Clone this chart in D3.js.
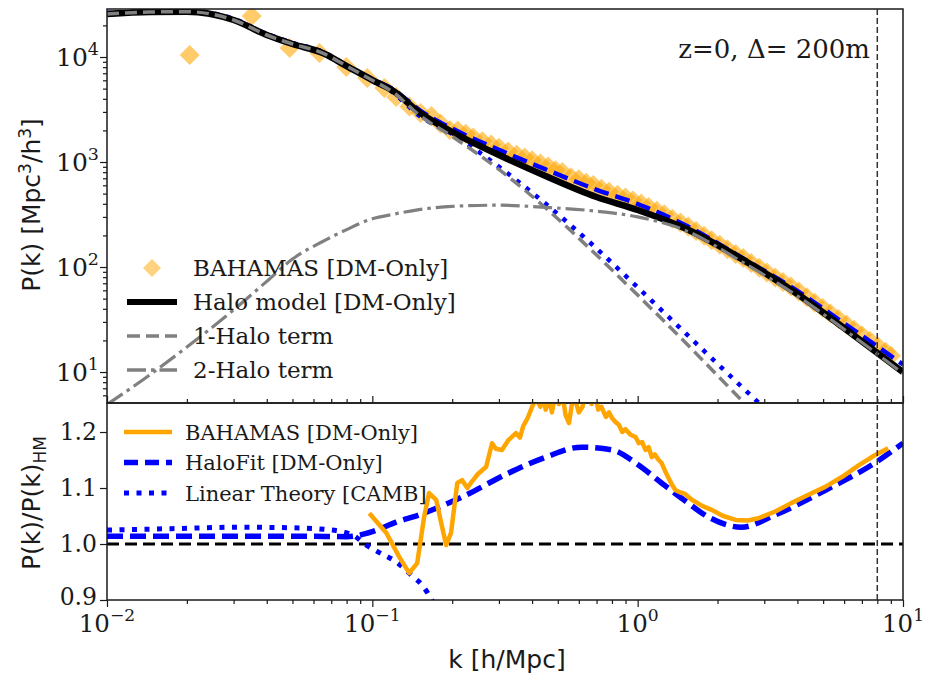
<!DOCTYPE html>
<html>
<head>
<meta charset="utf-8">
<script src="https://cdn.jsdelivr.net/npm/d3@7"></script>
<style>
  body { margin: 0; background: #fff; }
</style>
</head>
<body>
<div id="chart"></div>
<script>
// ---- data ----
// model curves on a shared k grid [h/Mpc]
var kGrid = [0.01, 0.0145, 0.02, 0.03, 0.04, 0.05, 0.065, 0.08, 0.1, 0.12, 0.15, 0.2, 0.3, 0.45, 0.7, 1.0, 1.5, 2.5, 4, 6, 10];
var pHaloModel = [25700, 26800, 27000, 22500, 16200, 13300, 10900, 8200, 6030, 4740, 2990, 1930, 1166, 736, 464, 349, 235, 117, 55.3, 26.2, 10.0];
var pHaloFit = [26000, 27100, 27300, 22800, 16400, 13500, 11000, 8300, 6160, 4915, 3145, 2080, 1306, 850, 544, 398, 253, 120.5, 59.1, 29.1, 11.8];
var pLinear = [26200, 27400, 27700, 23100, 16600, 13650, 11200, 8350, 6000, 4570, 2770, 1850, 900, 400, 150, 64, 24, 7.0, 2.3, 0.8, 0.2];
var pOneHalo = [25700, 26800, 27000, 22500, 16200, 13300, 10900, 8200, 6000, 4600, 2800, 1750, 850, 365, 130, 54, 19.5, 5.2, 1.6, 0.5, 0.1];
var pTwoHalo = [4.9, 9.4, 17.3, 39, 73, 119, 175, 227, 288, 318, 352, 378, 388, 370, 340, 300, 225, 110, 53, 25.5, 9.7];

// BAHAMAS simulation points (top panel)
var kBahamas = [0.0205, 0.0351, 0.0488, 0.0632, 0.0798, 0.0957, 0.111, 0.123,
  0.138, 0.152, 0.167, 0.181, 0.196, 0.21, 0.225, 0.24, 0.26, 0.28,
  0.30, 0.325, 0.35, 0.375, 0.40, 0.43, 0.46, 0.49, 0.52, 0.56,
  0.60, 0.64, 0.68, 0.73, 0.78, 0.84, 0.9, 0.96, 1.03, 1.1,
  1.18, 1.26, 1.35, 1.45, 1.55, 1.66, 1.78, 1.9, 2.04, 2.18,
  2.34, 2.5, 2.68, 2.87, 3.07, 3.3, 3.53, 3.78, 4.05, 4.34,
  4.65, 4.98, 5.33, 5.71, 6.12, 6.55, 7.0, 7.5, 8.05, 8.6, 9.0];
var pBahamas = [10440, 24550, 12180, 10920, 8030, 6310, 5070, 4160,
  3370, 2930, 2750, 2310, 2015, 2000, 1860, 1710, 1580, 1470,
  1365, 1256, 1175, 1102, 1042, 968, 906, 836, 804, 715,
  687, 635, 603, 556, 521, 489, 458, 431, 402, 373,
  343, 318, 288, 265, 243, 220, 199, 180, 163, 148,
  133, 122, 109, 98.4, 88.7, 79.6, 72.0, 65.3, 58.5, 51.6,
  45.7, 40.6, 36.0, 31.9, 28.4, 25.2, 22.4, 19.9, 17.5, 15.6, 14.3];

// ratio panel: P(k)/P(k)_HM
var kRatioBahamas = [0.0974, 0.1128, 0.1263, 0.1377, 0.1476, 0.1567, 0.1636, 0.174, 0.1833, 0.1897,
  0.198, 0.209, 0.218, 0.228, 0.2377, 0.25, 0.2686, 0.2826, 0.292, 0.308, 0.325, 0.3476, 0.36, 0.37, 0.385,
  0.40, 0.414, 0.43, 0.44, 0.45, 0.462, 0.475, 0.49, 0.505, 0.52, 0.535, 0.551, 0.565, 0.58, 0.60, 0.62, 0.635, 0.65, 0.67,
  0.695, 0.71, 0.73, 0.759, 0.78, 0.8, 0.825, 0.849, 0.875, 0.9, 0.94, 0.982, 1.01, 1.04, 1.07, 1.10, 1.13, 1.16,
  1.2, 1.23, 1.27, 1.3, 1.35, 1.39, 1.45, 1.5, 1.60, 1.75, 1.90, 2.1, 2.34, 2.6,
  2.85, 3.3, 3.79, 4.4, 5.09, 5.9, 6.78, 7.8, 8.79];
var rBahamas = [1.055, 1.02, 0.977, 0.948, 0.966, 1.048, 1.091, 1.079, 1.030, 0.998,
  1.02, 1.109, 1.114, 1.10, 1.112, 1.125, 1.138, 1.18, 1.17, 1.168, 1.185, 1.198, 1.19, 1.21, 1.225,
  1.245, 1.26, 1.245, 1.27, 1.24, 1.262, 1.235, 1.27, 1.25, 1.27, 1.23, 1.216, 1.25, 1.26, 1.235, 1.245, 1.275, 1.28, 1.25,
  1.262, 1.24, 1.245, 1.227, 1.235, 1.225, 1.218, 1.213, 1.2, 1.205, 1.195, 1.191, 1.18, 1.182, 1.168, 1.173, 1.155, 1.16,
  1.15, 1.145, 1.13, 1.12, 1.105, 1.096, 1.092, 1.09, 1.079, 1.068, 1.061, 1.05, 1.043, 1.042,
  1.046, 1.058, 1.073, 1.088, 1.102, 1.12, 1.14, 1.158, 1.171];

var kRatioHaloFit = [0.01, 0.02, 0.04, 0.06, 0.08, 0.09, 0.1, 0.123, 0.15, 0.218, 0.327, 0.45, 0.615, 0.8, 1.0, 1.23, 1.5, 1.85, 2.46, 3.3, 5.1, 7.85, 10];
var rHaloFit = [1.014, 1.014, 1.014, 1.014, 1.013, 1.016, 1.022, 1.039, 1.052, 1.084, 1.127, 1.155, 1.173, 1.168, 1.142, 1.109, 1.078, 1.048, 1.030, 1.052, 1.096, 1.145, 1.180];

var kRatioLinear = [0.01, 0.02, 0.03, 0.05, 0.07, 0.085, 0.095, 0.105, 0.123, 0.14, 0.155, 0.17];
var rLinear = [1.025, 1.028, 1.03, 1.029, 1.025, 1.015, 0.998, 0.986, 0.968, 0.945, 0.925, 0.895];

var kCut = 8; // vertical dashed marker

// ---- layout ----
var svgWidth = 926;
var svgHeight = 674;
var margin = { top: 9, right: 23, bottom: 74, left: 107 };
var width = svgWidth - margin.left - margin.right;
var topH = 394;
var botH = svgHeight - margin.top - margin.bottom - topH;

var serif = "DejaVu Serif, serif";
var sans = "DejaVu Sans, sans-serif";
var ink = "#1a1a1a";

var svg = d3.select("#chart")
  .append("svg")
  .attr("width", svgWidth)
  .attr("height", svgHeight);

var defs = svg.append("defs");
defs.append("clipPath").attr("id", "clipTop")
  .append("rect").attr("width", width).attr("height", topH);
defs.append("clipPath").attr("id", "clipBot")
  .append("rect").attr("width", width).attr("height", botH);

var topGroup = svg.append("g")
  .attr("transform", `translate(${margin.left}, ${margin.top})`);
var botGroup = svg.append("g")
  .attr("transform", `translate(${margin.left}, ${margin.top + topH})`);

// scales
var xScale = d3.scaleLog().domain([0.01, 10]).range([0, width]);
var yTop = d3.scaleLog().domain([5.07, 28650]).range([topH, 0]);
var yBot = d3.scaleLinear().domain([0.9, 1.2518]).range([botH, 0]);

function zip(ks, vs) { return ks.map((k, i) => [k, vs[i]]); }

var lineTop = d3.line()
  .x(d => xScale(d[0]))
  .y(d => yTop(d[1]))
  .curve(d3.curveMonotoneX);
var lineBot = d3.line()
  .x(d => xScale(d[0]))
  .y(d => yBot(d[1]))
  .curve(d3.curveMonotoneX);

// ---- top panel ----
var topPlot = topGroup.append("g").attr("clip-path", "url(#clipTop)");

var diamond = "M0,-10L10,0L0,10L-10,0Z";
topPlot.selectAll("path.bahamas")
  .data(zip(kBahamas, pBahamas))
  .enter()
  .append("path")
  .attr("class", "bahamas")
  .attr("d", diamond)
  .attr("transform", d => `translate(${xScale(d[0])},${yTop(d[1])})`)
  .attr("fill", "#ffa500")
  .attr("fill-opacity", 0.58);

function addTopLine(vals, color, w, dash) {
  topPlot.append("path")
    .datum(zip(kGrid, vals))
    .attr("d", lineTop)
    .attr("fill", "none")
    .attr("stroke", color)
    .attr("stroke-width", w)
    .attr("stroke-dasharray", dash || null);
}
addTopLine(pLinear, "#0000ff", 4.5, "4.5,7.5");
addTopLine(pHaloFit, "#0000ff", 4.5, "15,7");
addTopLine(pHaloModel, "#000000", 6.5);
addTopLine(pOneHalo, "#808080", 3.5, "12,6");
addTopLine(pTwoHalo, "#808080", 3.2, "19,5,3.5,5");

// ---- bottom panel ----
var botPlot = botGroup.append("g").attr("clip-path", "url(#clipBot)");

botPlot.append("line")
  .attr("x1", 0).attr("x2", width)
  .attr("y1", yBot(1)).attr("y2", yBot(1))
  .attr("stroke", "#000").attr("stroke-width", 3)
  .attr("stroke-dasharray", "12,6");

function addBotLine(ks, vals, color, w, dash, curve) {
  botPlot.append("path")
    .datum(zip(ks, vals))
    .attr("d", lineBot.curve(curve || d3.curveMonotoneX))
    .attr("fill", "none")
    .attr("stroke", color)
    .attr("stroke-width", w)
    .attr("stroke-linejoin", "round")
    .attr("stroke-dasharray", dash || null);
}
addBotLine(kRatioLinear, rLinear, "#0000ff", 5, "5,7.5");
addBotLine(kRatioHaloFit, rHaloFit, "#0000ff", 5.5, "16,7");
addBotLine(kRatioBahamas, rBahamas, "#ffa500", 4.5, null, d3.curveLinear);

// vertical marker through both panels
svg.append("line")
  .attr("x1", margin.left + xScale(kCut)).attr("x2", margin.left + xScale(kCut))
  .attr("y1", margin.top).attr("y2", margin.top + topH + botH)
  .attr("stroke", "#333").attr("stroke-width", 1.5)
  .attr("stroke-dasharray", "6,3");

// ---- axes ----
function minorLog(lo, hi) {
  var out = [];
  for (var e = Math.floor(Math.log10(lo)); e <= Math.ceil(Math.log10(hi)); e++) {
    for (var m = 2; m <= 9; m++) {
      var v = m * Math.pow(10, e);
      if (v >= lo && v <= hi) out.push(v);
    }
  }
  return out;
}

function styleAxis(g) {
  g.select(".domain").remove();
  g.selectAll(".tick line").attr("stroke", ink).attr("stroke-width", 1.2);
  g.selectAll(".tick text").remove();
}

var xMajor = [0.01, 0.1, 1, 10];
var xMinor = minorLog(0.01, 10);

// top panel: y log ticks (outside), x ticks pointing up at panel bottom
topGroup.append("g").call(d3.axisLeft(yTop).tickValues([10, 100, 1000, 10000]).tickSize(7)).call(styleAxis);
topGroup.append("g").call(d3.axisLeft(yTop).tickValues(minorLog(5.07, 28650)).tickSize(4)).call(styleAxis);
topGroup.append("g").attr("transform", `translate(0, ${topH})`)
  .call(d3.axisTop(xScale).tickValues(xMajor).tickSize(7)).call(styleAxis);
topGroup.append("g").attr("transform", `translate(0, ${topH})`)
  .call(d3.axisTop(xScale).tickValues(xMinor).tickSize(4)).call(styleAxis);

// bottom panel
botGroup.append("g").call(d3.axisLeft(yBot).tickValues([0.9, 1.0, 1.1, 1.2]).tickSize(7)).call(styleAxis);
botGroup.append("g").attr("transform", `translate(0, ${botH})`)
  .call(d3.axisBottom(xScale).tickValues(xMajor).tickSize(7)).call(styleAxis);
botGroup.append("g").attr("transform", `translate(0, ${botH})`)
  .call(d3.axisBottom(xScale).tickValues(xMinor).tickSize(4)).call(styleAxis);

// frames
[[topGroup, topH], [botGroup, botH]].forEach(function(p) {
  p[0].append("rect")
    .attr("width", width).attr("height", p[1])
    .attr("fill", "none").attr("stroke", ink).attr("stroke-width", 1.5);
});

// tick labels (mathtext style powers of ten): base and exponent as separate texts
function powLabel(g, x, y, exp, anchor, fs) {
  var base = g.append("text")
    .attr("y", y)
    .attr("font-family", serif).attr("font-size", fs)
    .attr("fill", ink)
    .text("10");
  var sup = g.append("text")
    .attr("y", y - 0.45 * fs)
    .attr("font-family", serif).attr("font-size", fs * 0.7)
    .attr("fill", ink)
    .text(exp < 0 ? "\u2212" + (-exp) : String(exp));
  var w1 = base.node().getComputedTextLength();
  var w2 = sup.node().getComputedTextLength();
  var x0 = anchor === "end" ? x - w1 - w2 : x - (w1 + w2) / 2;
  base.attr("x", x0);
  sup.attr("x", x0 + w1);
}
[1, 2, 3, 4].forEach(e => powLabel(topGroup, -8, yTop(Math.pow(10, e)) + 9, e, "end", 25));
[-2, -1, 0, 1].forEach(e => powLabel(botGroup, xScale(Math.pow(10, e)), botH + 32, e, "middle", 24.5));

[0.9, 1.0, 1.1, 1.2].forEach(function(v) {
  botGroup.append("text")
    .attr("x", -10).attr("y", yBot(v) + (v === 0.9 ? 5 : 7.5))
    .attr("text-anchor", "end")
    .attr("font-family", serif).attr("font-size", 23.5)
    .attr("fill", ink)
    .text(d3.format(".1f")(v));
});

// axis titles
var yTitleTop = svg.append("text")
  .attr("transform", `translate(40, ${205}) rotate(-90)`)
  .attr("text-anchor", "middle")
  .attr("font-family", sans).attr("font-size", 25)
  .attr("fill", ink);
yTitleTop.append("tspan").text("P(k) [Mpc");
yTitleTop.append("tspan").attr("dy", -9).attr("font-size", 17).text("3");
yTitleTop.append("tspan").attr("dy", 9).text("/h");
yTitleTop.append("tspan").attr("dy", -9).attr("font-size", 17).text("3");
yTitleTop.append("tspan").attr("dy", 9).text("]");

var yTitleBot = svg.append("text")
  .attr("transform", `translate(40, ${503}) rotate(-90)`)
  .attr("text-anchor", "middle")
  .attr("font-family", sans).attr("font-size", 25)
  .attr("fill", ink);
yTitleBot.append("tspan").text("P(k)/P(k)");
yTitleBot.append("tspan").attr("dy", 6).attr("font-size", 17).text("HM");

svg.append("text")
  .attr("x", margin.left + width / 2 + 2).attr("y", 668)
  .attr("text-anchor", "middle")
  .attr("font-family", sans).attr("font-size", 25)
  .attr("fill", ink)
  .text("k [h/Mpc]");

// annotation
svg.append("text")
  .attr("x", 870).attr("y", 58)
  .attr("text-anchor", "end")
  .attr("font-family", serif).attr("font-size", 26)
  .attr("fill", ink)
  .text("z=0, \u0394= 200m");

// ---- legends ----
var topLegend = [
  { label: "BAHAMAS [DM-Only]", type: "diamond" },
  { label: "Halo model [DM-Only]", color: "#000", w: 6 },
  { label: "1-Halo term", color: "#808080", w: 3.5, dash: "13,6" },
  { label: "2-Halo term", color: "#808080", w: 3.5, dash: "19,5,3.5,5" }
];
var botLegend = [
  { label: "BAHAMAS [DM-Only]", color: "#ffa500", w: 4.5 },
  { label: "HaloFit [DM-Only]", color: "#0000ff", w: 5.5, dash: "14,7" },
  { label: "Linear Theory [CAMB]", color: "#0000ff", w: 5, dash: "5,7.5" }
];

function drawLegend(items, x0, x1, tx, y0, step, fs) {
  items.forEach(function(it, i) {
    var y = y0 + i * step;
    if (it.type === "diamond") {
      svg.append("path")
        .attr("d", "M0,-9L9,0L0,9L-9,0Z")
        .attr("transform", `translate(${(x0 + x1) / 2},${y})`)
        .attr("fill", "#ffa500").attr("fill-opacity", 0.5);
    } else {
      svg.append("line")
        .attr("x1", x0).attr("x2", x1).attr("y1", y).attr("y2", y)
        .attr("stroke", it.color).attr("stroke-width", it.w)
        .attr("stroke-dasharray", it.dash || null);
    }
    svg.append("text")
      .attr("x", tx).attr("y", y + fs * 0.36)
      .attr("font-family", serif).attr("font-size", fs)
      .attr("fill", ink)
      .text(it.label);
  });
}
drawLegend(topLegend, 127, 177, 193, 268, 34, 23);
drawLegend(botLegend, 124, 172, 185, 432, 30.5, 21);
</script>
</body>
</html>
